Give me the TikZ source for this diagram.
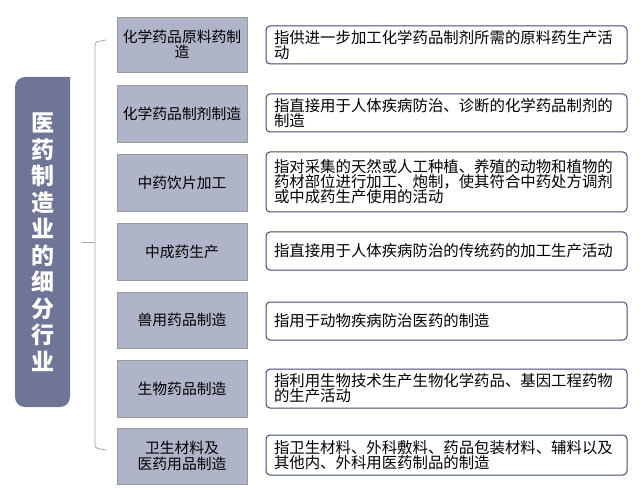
\documentclass[tikz,border=0pt]{standalone}
\usepackage{fontspec}
\setmainfont{Noto Sans CJK SC}
\definecolor{midfill}{RGB}{176,180,201}
\definecolor{rootfill}{RGB}{110,117,150}
\definecolor{descline}{RGB}{63,74,116}
\begin{document}
\begin{tikzpicture}[x=1pt,y=-1pt,
  mid/.style={draw=gray!80,fill=midfill,minimum width=130pt,align=center,font=\fontsize{14.8}{15.5}\selectfont,inner sep=1pt},
  desc/.style={draw=descline,line width=1pt,fill=white,rounded corners=4pt,minimum width=361pt,text width=345pt,align=left,font=\fontsize{15.4}{15}\selectfont,inner xsep=8pt,inner ysep=3pt},
  conn/.style={draw=gray!70,line width=0.8pt}]
\useasboundingbox (0,0) rectangle (640,489);
\fill[white] (0,0) rectangle (640,489);
\fill[rootfill,rounded corners=10pt] (70,77) -- (15,77) -- (15,407) -- (70,407) [sharp corners] -- cycle;
\node[text=white,font=\fontsize{23}{26.5}\selectfont\bfseries,align=center] (root) at (43,242) {医\\药\\制\\造\\业\\的\\细\\分\\行\\业};
\draw[conn,rounded corners=3pt] (106,40) -- (95,42) -- (95,448) -- (106,450);
\draw[conn] (82,242) -- (95,242);
\node[mid,minimum height=55pt] (m1) at (182,44.5) {化学药品原料药制\\造};
\node[mid,minimum height=57pt] (m2) at (182,113.5) {化学药品制剂制造};
\node[mid,minimum height=57pt] (m3) at (182,182.5) {中药饮片加工};
\node[mid,minimum height=57pt] (m4) at (182,251.5) {中成药生产};
\node[mid,minimum height=56pt] (m5) at (182,320) {兽用药品制造};
\node[mid,minimum height=57pt] (m6) at (182,388.5) {生物药品制造};
\node[mid,minimum height=56pt] (m7) at (182,456) {卫生材料及\\医药用品制造};
\node[desc,minimum height=38pt] (d1) at (446.5,45) {指供进一步加工化学药品制剂所需的原料药生产活\\动};
\node[desc,minimum height=38pt] (d2) at (446.5,113) {指直接用于人体疾病防治、诊断的化学药品制剂的\\制造};
\node[desc,minimum height=60pt] (d3) at (446.5,182) {指对采集的天然或人工种植、养殖的动物和植物的\\药材部位进行加工、炮制，使其符合中药处方调剂\\或中成药生产使用的活动};
\node[desc,minimum height=38pt] (d4) at (446.5,251) {指直接用于人体疾病防治的传统药的加工生产活动};
\node[desc,minimum height=38pt] (d5) at (446.5,321) {指用于动物疾病防治医药的制造};
\node[desc,minimum height=39pt] (d6) at (446.5,388.5) {指利用生物技术生产生物化学药品、基因工程药物\\的生产活动};
\node[desc,minimum height=40pt] (d7) at (446.5,455) {指卫生材料、外科敷料、药品包装材料、辅料以及\\其他内、外科用医药制品的制造};
\end{tikzpicture}
\end{document}
